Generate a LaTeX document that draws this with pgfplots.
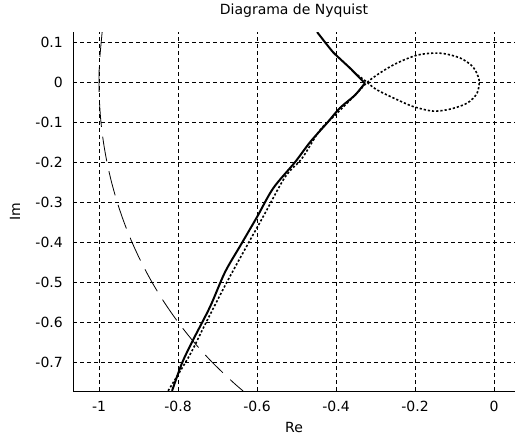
\documentclass[border=0pt]{standalone}
\usepackage{pgfplots}
\pgfplotsset{compat=1.18}
\usepackage{fontspec}
\setmainfont{DejaVu Sans}
\newcommand{\chartfont}{\fontsize{14bp}{17bp}\selectfont}
\begin{document}
\begin{tikzpicture}[font=\chartfont]
\begin{axis}[
  scale only axis,
  width=442bp, height=359bp,
  xmin=-1.0658, xmax=0.053,
  ymin=-0.7725, ymax=0.126,
  axis x line=bottom, axis y line=left,
  axis line style={-, black, line width=0.8bp},
  xtick={-1,-0.8,-0.6,-0.4,-0.2,0},
  xticklabels={-1,-0.8,-0.6,-0.4,-0.2,0},
  ytick={0.1,0,-0.1,-0.2,-0.3,-0.4,-0.5,-0.6,-0.7},
  yticklabels={0.1,0,-0.1,-0.2,-0.3,-0.4,-0.5,-0.6,-0.7},
  tick align=inside, major tick length=4bp,
  tick style={black, line width=0.8bp},
  tick label style={font=\chartfont},
  label style={font=\chartfont},
  xticklabel style={anchor=base, inner sep=0pt, yshift=-20bp},
  yticklabel style={anchor=east, inner sep=0pt, xshift=-10bp},
  grid=major,
  major grid style={black, line width=0.8bp, dash pattern=on 4bp off 3bp},
  title={Diagrama de Nyquist},
  title style={font=\chartfont, at={(0.5,1)}, anchor=base, yshift=12bp, inner sep=0pt},
  xlabel={Re},
  xlabel style={at={(axis description cs:0.5,0)}, anchor=base, yshift=-41bp, inner sep=0pt},
  ylabel={Im},
  ylabel style={at={(axis description cs:-0.131,0.5)}, anchor=center, inner sep=0pt},
  clip=true,
]
% unit circle (dashed)
\addplot[black, line width=0.8bp, dash pattern=on 25bp off 10bp, smooth] coordinates {
(-0.9920,0.126) (-0.9988,0.05) (-1.0,0.0) (-0.9987,-0.05) (-0.9950,-0.1) (-0.9887,-0.15)
(-0.9798,-0.2) (-0.9682,-0.25) (-0.9539,-0.3) (-0.9367,-0.35) (-0.9165,-0.4)
(-0.8930,-0.45) (-0.8660,-0.5) (-0.8352,-0.55) (-0.8000,-0.6) (-0.7599,-0.65)
(-0.7141,-0.7) (-0.6614,-0.75) (-0.6351,-0.7725)
};
% solid curve, upper branch
\addplot[black, line width=2bp, line join=miter, smooth, tension=0.3] coordinates {
(-0.448,0.126) (-0.408,0.076) (-0.365,0.036) (-0.327,-0.002)
};
% solid curve, lower branch
\addplot[black, line width=2bp, smooth, tension=0.5] coordinates {
(-0.327,-0.002) (-0.352,-0.032) (-0.390,-0.064) (-0.423,-0.102) (-0.466,-0.150)
(-0.504,-0.200) (-0.559,-0.265) (-0.600,-0.337) (-0.640,-0.405)
(-0.681,-0.475) (-0.719,-0.562) (-0.762,-0.645) (-0.790,-0.703) (-0.815,-0.772)
};
% dotted curve
\addplot[black, line width=1.6bp, dash pattern=on 2.2bp off 2bp, smooth, tension=0.5] coordinates {
(-0.825,-0.772) (-0.770,-0.682) (-0.732,-0.607) (-0.673,-0.494) (-0.585,-0.337)
(-0.529,-0.237) (-0.486,-0.190) (-0.441,-0.120) (-0.397,-0.077) (-0.352,-0.032)
(-0.314,0.006) (-0.256,0.043) (-0.195,0.068) (-0.137,0.073) (-0.086,0.061)
(-0.053,0.038) (-0.038,0.006) (-0.043,-0.027) (-0.068,-0.052) (-0.111,-0.067)
(-0.154,-0.072) (-0.200,-0.062) (-0.233,-0.049) (-0.296,-0.019) (-0.325,0.003) (-0.345,0.018)
};
\end{axis}
\pgfresetboundingbox
\path (-73bp,-46bp) rectangle (442bp,391bp);
\end{tikzpicture}
\end{document}
